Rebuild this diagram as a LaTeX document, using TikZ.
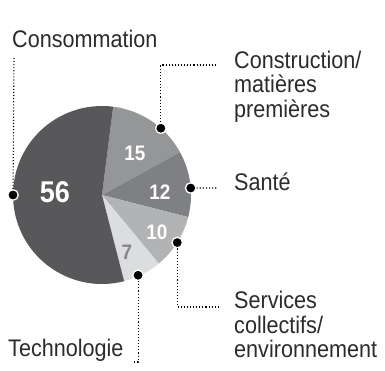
\documentclass[tikz,border=0pt]{standalone}
\usepackage{fontspec}
\setmainfont[FakeStretch=0.9]{Liberation Sans}
\usepackage{tikz}
\usetikzlibrary{positioning}
\usetikzlibrary{calc}

\definecolor{consoGray}{HTML}{58585A}
\definecolor{constrGray}{HTML}{959698}
\definecolor{santeGray}{HTML}{7F8083}
\definecolor{servGray}{HTML}{B2B3B5}
\definecolor{techGray}{HTML}{DCDDDE}
\definecolor{techText}{HTML}{858688}
\definecolor{labelText}{HTML}{2B2B2B}

\begin{document}
\begin{tikzpicture}[
	x=1pt, y=1pt,
	sector/.style={inner sep=0pt, font=\fontsize{24}{24.5}\selectfont, text=labelText, align=left},
	share/.style={inner sep=0pt, font=\fontsize{21}{21}\selectfont\bfseries, text=white},
	marker/.style={circle, fill=black, draw=white, line width=1.3pt, inner sep=0pt, minimum size=10.5pt},
	leader/.style={line width=1.1pt, dash pattern=on 1.1pt off 2pt}
]
\useasboundingbox (0,0) rectangle (385,371);
\coordinate (center) at (102,176);

% slices, clockwise from the top
\fill[constrGray] (center) -- ++(82.8:89) arc[start angle=82.8, end angle=28.8, radius=89] -- cycle;
\fill[santeGray] (center) -- ++(28.8:89) arc[start angle=28.8, end angle=-14.4, radius=89] -- cycle;
\fill[servGray] (center) -- ++(-14.4:89) arc[start angle=-14.4, end angle=-50.4, radius=89] -- cycle;
\fill[techGray] (center) -- ++(-50.4:89) arc[start angle=-50.4, end angle=-75.6, radius=89] -- cycle;
\fill[consoGray] (center) -- ++(-75.6:89) arc[start angle=-75.6, end angle=-277.2, radius=89] -- cycle;

% ---

\node[share, font=\fontsize{30}{30}\selectfont\bfseries] (consoVal) at (55,179) {56};
\node[share] (constrVal) at (135,218) {15};
\node[share] (santeVal) at (160,179) {12};
\node[share] (servVal) at (157,139) {10};
\node[share, text=techText] (techVal) at (127,119) {7};

% ---

\node[sector, anchor=base west] (conso) at (12,323) {Consommation};
\node[sector, anchor=north west] (constr) at (234,320.5) {Construction/\\matières\\premières};
\node[sector, anchor=base west] (sante) at (234,180) {Santé};
\node[sector, anchor=north west] (serv) at (234,80) {Services\\collectifs/\\environnement};
\node[sector, anchor=base west] (tech) at (8,14) {Technologie};

% ---

\node[marker] (consoDot) at ($(center)+(180:89)$) {};
\node[marker] (constrDot) at ($(center)+(48.6:89)$) {};
\node[marker] (santeDot) at ($(center)+(4.5:89)$) {};
\node[marker] (servDot) at ($(center)+(-32.3:89)$) {};
\node[marker] (techDot) at ($(center)+(-65.8:88)$) {};

\coordinate (consoEnd) at (14,314);
\coordinate (constrEnd) at (218,306);
\coordinate (santeEnd) at (218,183);
\coordinate (servEnd) at (218,64);
\coordinate (techEnd) at (133,9);

\draw[leader] (consoDot) -- (consoEnd);
\draw[leader] (constrDot) |- (constrEnd);
\draw[leader] (santeDot) -- (santeEnd);
\draw[leader] (servDot) |- (servEnd);
\draw[leader] (techDot) |- (techEnd);

\end{tikzpicture}
\end{document}
